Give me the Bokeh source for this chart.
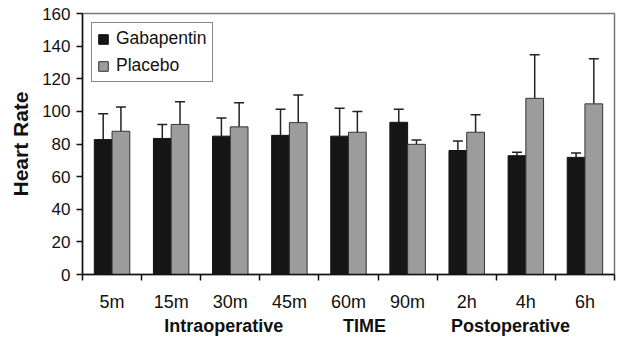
from bokeh.plotting import figure
from bokeh.models import (ColumnDataSource, FixedTicker, LinearAxis, Whisker, TeeHead,
                          Legend, LegendItem, Range1d)
from bokeh.embed import file_html
from bokeh.resources import INLINE

categories = ["5m", "15m", "30m", "45m", "60m", "90m", "2h", "4h", "6h"]
gaba_mean = [82.7, 83.4, 84.8, 85.3, 84.8, 93.3, 76.0, 72.8, 71.8]
gaba_sd = [15.8, 8.6, 11.2, 16.0, 17.1, 8.0, 5.9, 2.2, 2.7]
plac_mean = [87.8, 92.0, 90.5, 93.1, 87.2, 79.8, 87.2, 108.0, 104.6]
plac_sd = [14.9, 13.9, 14.8, 17.0, 12.8, 2.7, 10.7, 26.7, 27.6]
group_labels = ["Intraoperative", "TIME", "Postoperative"]
group_pos = [2.39, 4.77, 7.24]
y_ticks = [0, 20, 40, 60, 80, 100, 120, 140, 160]

FONT = "Liberation Sans"
INK = "#111111"
n = len(categories)
centers = [i + 0.5 for i in range(n)]
bw = 0.3

src_g = ColumnDataSource(dict(x=[c - bw / 2 for c in centers], top=gaba_mean,
                              up=[m + s for m, s in zip(gaba_mean, gaba_sd)]))
src_p = ColumnDataSource(dict(x=[c + bw / 2 for c in centers], top=plac_mean,
                              up=[m + s for m, s in zip(plac_mean, plac_sd)]))

p = figure(width=617, height=338, output_backend="svg", toolbar_location=None,
           x_range=Range1d(0, n), y_range=Range1d(0, 160),
           min_border_left=82, min_border_right=3, min_border_top=13, min_border_bottom=57)
p.background_fill_color = "white"
p.border_fill_color = "white"
p.xgrid.visible = False
p.ygrid.visible = False
p.outline_line_color = "#777777"
p.outline_line_width = 1.5

rg = p.vbar(x="x", top="top", width=bw, source=src_g, fill_color="#161616",
            line_color=INK, line_width=1)
rp = p.vbar(x="x", top="top", width=bw, source=src_p, fill_color="#9c9c9c",
            line_color="#333333", line_width=1)

for src in (src_g, src_p):
    w = Whisker(source=src, base="x", lower="top", upper="up", dimension="height",
                line_color="#222222", line_width=1.5,
                upper_head=TeeHead(size=10, line_color="#222222", line_width=1.5),
                lower_head=None)
    p.add_layout(w)

# y axis
ya = p.yaxis[0]
ya.ticker = FixedTicker(ticks=y_ticks)
ya.axis_label = "Heart Rate"
ya.axis_label_text_font = FONT
ya.axis_label_text_font_style = "bold"
ya.axis_label_text_font_size = "21px"
ya.axis_label_text_color = INK
ya.axis_label_standoff = 7
ya.major_label_text_font = FONT
ya.major_label_text_font_size = "17px"
ya.major_label_text_color = INK
ya.major_label_standoff = 6
ya.major_tick_out = 6
ya.major_tick_in = 0
ya.minor_tick_line_color = None
ya.axis_line_color = INK
ya.axis_line_width = 1.5
ya.major_tick_line_color = INK
ya.major_tick_line_width = 1.5

# x axis: labels at category centers, ticks at boundaries
xa = p.xaxis[0]
xa.ticker = FixedTicker(ticks=centers, minor_ticks=list(range(n + 1)))
xa.major_label_overrides = {c: lab for c, lab in zip(centers, categories)}
xa.major_label_text_font = FONT
xa.major_label_text_font_size = "18px"
xa.major_label_text_color = INK
xa.major_label_standoff = 11
xa.major_tick_line_color = None
xa.major_tick_out = 6
xa.major_tick_in = 0
xa.minor_tick_line_color = INK
xa.minor_tick_line_width = 1.5
xa.minor_tick_out = 6
xa.minor_tick_in = 0
xa.axis_line_color = INK
xa.axis_line_width = 1.5

ga = LinearAxis(ticker=FixedTicker(ticks=group_pos, minor_ticks=[]),
                major_label_overrides={g: lab for g, lab in zip(group_pos, group_labels)})
ga.axis_line_color = None
ga.major_tick_line_color = None
ga.minor_tick_line_color = None
ga.major_tick_out = 0
ga.major_tick_in = 0
ga.major_label_standoff = 1
ga.major_label_text_font = FONT
ga.major_label_text_font_style = "bold"
ga.major_label_text_font_size = "18px"
ga.major_label_text_color = INK
p.add_layout(ga, "below")

legend = Legend(items=[LegendItem(label="Gabapentin", renderers=[rg]),
                       LegendItem(label="Placebo", renderers=[rp])],
                location="top_left", margin=9, padding=5, spacing=6,
                glyph_width=12, glyph_height=12, label_height=19, label_standoff=7,
                label_text_font=FONT, label_text_font_size="17.5px", label_text_color=INK,
                border_line_color=INK, border_line_width=1,
                background_fill_color="white", background_fill_alpha=1)
p.add_layout(legend)

open("out.html", "w").write(file_html(p, INLINE))
